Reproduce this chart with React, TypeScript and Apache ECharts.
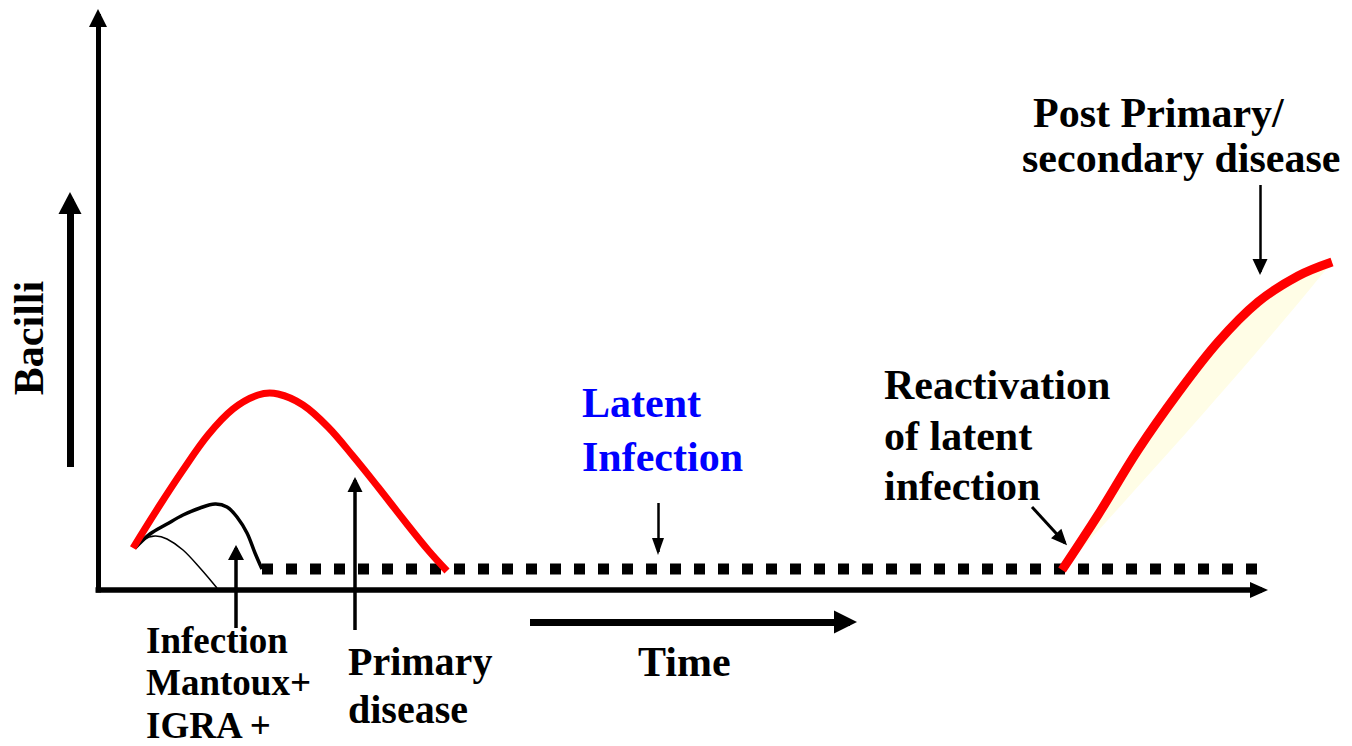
import React, { useEffect, useRef } from "react";
import * as echarts from "echarts";

// Units: x = time (0 at the origin of the drawn axes), y = bacilli count (0 on the time axis)
const primaryX = [35, 60, 85, 110, 135, 160, 180, 205, 230, 255, 280, 305, 330, 349];
const primaryY = [42, 82, 120, 155, 181, 195, 196, 185, 163, 134, 103, 71, 40, 19];

const infectionX = [37, 52, 69, 85, 102, 117, 129, 139, 149, 157, 164];
const infectionY = [42, 56, 66, 75, 82, 86, 83, 73, 57, 37, 21];

const clearedX = [37, 45, 57, 69, 85, 102, 119];
const clearedY = [42, 50, 54, 51, 40, 22, 2];

const latentX = [164, 1159];
const latentY = [21, 21];

const secondaryX = [964, 1000, 1040, 1080, 1120, 1160, 1200, 1234];
const secondaryY = [20, 75, 140, 197, 248, 288, 314, 328];

// arrows: axes and annotation pointers (start -> end)
const arrowNames = ["bacilliAxis", "timeAxis", "bacilli", "time", "infection", "primary", "latent", "reactivation", "post"];
const arrowStart = [[0, -2.5], [-2.5, 0], [-28, 123], [432, -32], [138, -38], [257, -40], [560, 87], [934, 83], [1162, 405]];
const arrowEnd = [[0, 576], [1164, 0], [-28, 391], [752, -32], [138, 42], [257, 110], [560, 38], [967, 47], [1162, 318]];

const labelLines = [
  "Post Primary/", "secondary disease",
  "Reactivation", "of latent", "infection",
  "Latent", "Infection",
  "Time",
  "Primary", "disease",
  "Infection", "Mantoux+", "IGRA +",
  "Bacilli",
];

const pairs = (xs: number[], ys: number[]) => xs.map((x, i) => [x, ys[i]]);

// style per arrow: [lineWidth, headWidth, headLength, tipExtension]
const arrowStyle: Record<string, number[]> = {
  bacilliAxis: [5, 18, 18, 5],
  timeAxis: [5.5, 16, 18, 6],
  bacilli: [7, 23, 22, 7],
  time: [7, 23, 23, 7],
  infection: [3.5, 16, 15, 3],
  primary: [3.5, 15, 15, 3],
  latent: [2.5, 12, 17, 3],
  reactivation: [3, 14, 16, 3],
  post: [2.5, 15, 16, 3],
};

const textPlacement = [
  { x: 1033, y: 113, size: 42, color: "#000" },
  { x: 1022, y: 158, size: 42, color: "#000" },
  { x: 884, y: 385, size: 42, color: "#000" },
  { x: 884, y: 436, size: 42, color: "#000" },
  { x: 884, y: 486, size: 42, color: "#000" },
  { x: 582, y: 403, size: 42, color: "#0000ff" },
  { x: 582, y: 457, size: 42, color: "#0000ff" },
  { x: 638, y: 662, size: 42, color: "#000" },
  { x: 348, y: 661.5, size: 40, color: "#000" },
  { x: 348, y: 709.5, size: 40, color: "#000" },
  { x: 146, y: 640.5, size: 37, color: "#000" },
  { x: 146, y: 682.5, size: 37, color: "#000" },
  { x: 146, y: 725.5, size: 37, color: "#000" },
  { x: 29, y: 338, size: 42, color: "#000", rotate: true },
];

function curveSeries(pts: number[][], color: string, width: number, z: number) {
  return {
    type: "custom",
    clip: false,
    silent: true,
    z,
    data: pts,
    renderItem: (params: any, api: any) =>
      params.dataIndex === 0
        ? {
            type: "polyline",
            shape: { points: pts.map((p) => api.coord(p)), smooth: 0.35 },
            style: { stroke: color, lineWidth: width, fill: "none", lineCap: "butt", lineJoin: "round" },
          }
        : null,
  };
}

export default function App() {
  const ref = useRef<HTMLDivElement>(null);

  useEffect(() => {
    if (!ref.current) return;
    const chart = echarts.init(ref.current, null, { renderer: "svg" });

    const markData = arrowNames.map((name, i) => {
      const [lw, hw, hl, ext] = arrowStyle[name];
      return [
        {
          coord: arrowStart[i],
          symbol: "none",
          lineStyle: { width: lw, color: "#000", type: "solid", cap: "butt" },
        },
        {
          coord: arrowEnd[i],
          symbol: "triangle",
          symbolSize: [hw, hl],
          symbolOffset: [0, hl / 2 - ext],
          lineStyle: { width: lw, color: "#000", type: "solid", cap: "butt" },
        },
      ];
    });

    const secondaryPts = pairs(secondaryX, secondaryY);

    const graphics = labelLines.map((t, i) => {
      const p = textPlacement[i] as any;
      return {
        type: "text",
        x: p.x,
        y: p.y,
        rotation: p.rotate ? Math.PI / 2 : 0,
        silent: true,
        style: {
          text: t,
          fontFamily: "Liberation Serif",
          fontWeight: "bold",
          fontSize: p.size,
          fill: p.color,
          align: p.rotate ? "center" : "left",
          verticalAlign: "middle",
        },
      };
    });

    chart.setOption({
      animation: false,
      backgroundColor: "#ffffff",
      grid: { left: 0, right: 0, top: 0, bottom: 0, containLabel: false },
      xAxis: { type: "value", min: -98, max: 1254, show: false },
      yAxis: { type: "value", min: -156, max: 590, show: false },
      series: [
        {
          type: "custom",
          clip: false,
          silent: true,
          z: 1,
          data: [secondaryPts[0]],
          renderItem: (_params: any, api: any) => ({
            type: "polygon",
            shape: { points: secondaryPts.map((p) => api.coord(p)), smooth: 0.35 },
            style: { fill: "#fffde6", stroke: "none" },
          }),
        },
        {
          type: "line",
          data: pairs(latentX, latentY),
          symbol: "none",
          clip: false,
          silent: true,
          z: 2,
          lineStyle: { color: "#000", width: 11, type: [11, 13], cap: "butt" },
          markLine: {
            silent: true,
            animation: false,
            symbol: ["none", "triangle"],
            label: { show: false },
            emphasis: { disabled: true },
            data: markData,
          },
        },
        curveSeries(pairs(clearedX, clearedY), "#000", 1.5, 3),
        curveSeries(pairs(infectionX, infectionY), "#000", 3.5, 3),
        curveSeries(pairs(primaryX, primaryY), "#ff0000", 7, 4),
        curveSeries(secondaryPts, "#ff0000", 9, 4),
      ],
      graphic: graphics,
    });

    return () => chart.dispose();
  }, []);

  return (
    <div
      ref={ref}
      style={{ position: "fixed", left: 0, top: 0, width: 1352, height: 746, background: "#fff" }}
    />
  );
}
